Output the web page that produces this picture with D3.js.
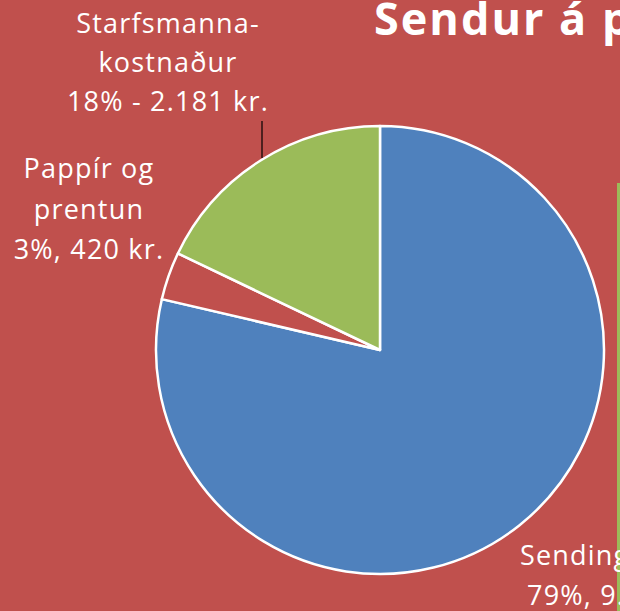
<!DOCTYPE html>
<html>
<head>
<meta charset="utf-8">
<script src="https://cdn.jsdelivr.net/npm/d3@7"></script>
<style>
  html, body { margin: 0; padding: 0; background: #C0504D; }
  svg { display: block; }
  text { font-family: "Open Sans", "Noto Sans", sans-serif; fill: #fff; }
</style>
</head>
<body>
<div id="chart"></div>
<script>
// Gögn
const categories = ['Sendingarkostnaður', 'Pappír og prentun', 'Starfsmannakostnaður'];
const values = [9580, 420, 2181];
const colors = ['#4F81BD', '#C0504D', '#9BBB59'];
const labelLines = [
  ['Sendingarkostnaður', '79%, 9.580 kr.'],
  ['Pappír og', 'prentun', '3%, 420 kr.'],
  ['Starfsmanna-', 'kostnaður', '18% - 2.181 kr.']
];

const width = 620, height = 611;
const cx = 380, cy = 350, radius = 224;

const svg = d3.select('#chart').append('svg')
  .attr('width', width)
  .attr('height', height);

svg.append('rect')
  .attr('width', width).attr('height', height)
  .attr('fill', '#C0504D');

// Titill (klipptur af hægra megin eins og á glærunni)
svg.append('text')
  .attr('x', 374).attr('y', 35)
  .style('font-size', '45px')
  .style('font-weight', 'bold')
  .style('letter-spacing', '2px')
  .text('Sendur á pappír');

// Græna súlan lengst til hægri
svg.append('rect')
  .attr('x', 617).attr('y', 183)
  .attr('width', 3).attr('height', height - 183)
  .attr('fill', '#9BBB59');

const pie = d3.pie().sort(null).value(d => d);
const arc = d3.arc().innerRadius(0).outerRadius(radius);
const arcs = pie(values);

const g = svg.append('g').attr('transform', `translate(${cx},${cy})`);

g.selectAll('path')
  .data(arcs)
  .enter()
  .append('path')
  .attr('d', arc)
  .attr('fill', (d, i) => colors[i])
  .attr('stroke', '#fff')
  .attr('stroke-width', 2.5)
  .attr('stroke-linejoin', 'round');

// Merkingar
const labelPos = [
  { x: 520, y: 565, anchor: 'start', dy: [0, 40] },
  { x: 89, y: 178, anchor: 'middle', dy: [0, 41, 81] },
  { x: 168, y: 33, anchor: 'middle', dy: [0, 39, 78] }
];

labelLines.forEach((lines, i) => {
  const p = labelPos[i];
  const t = svg.append('text')
    .attr('text-anchor', p.anchor)
    .style('font-size', '27px')
    .style('letter-spacing', '1.2px');
  lines.forEach((line, j) => {
    t.append('tspan')
      .attr('x', p.x + (i === 0 && j === 1 ? 7 : 0))
      .attr('y', p.y + p.dy[j])
      .text(line);
  });
});

// Leiðarlína fyrir starfsmannakostnað
svg.append('line')
  .attr('x1', 262).attr('y1', 121)
  .attr('x2', 262).attr('y2', 158)
  .attr('stroke', '#000')
  .attr('stroke-width', 1.2);
</script>
</body>
</html>
